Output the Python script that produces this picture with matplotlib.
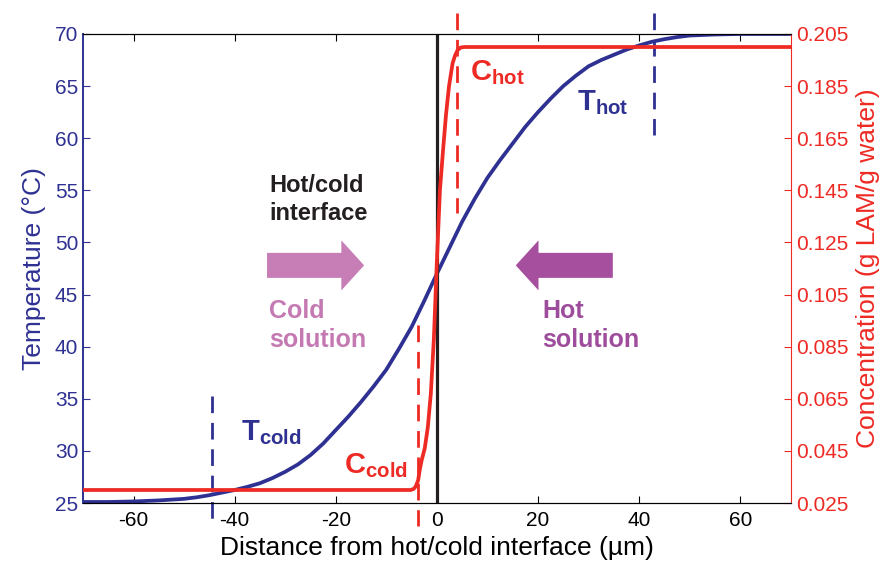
import matplotlib
matplotlib.use("Agg")
import matplotlib.pyplot as plt
from matplotlib.patches import FancyArrow

plt.rcParams["font.family"] = ["Liberation Sans", "DejaVu Sans"]
plt.rcParams["mathtext.fontset"] = "custom"
plt.rcParams["mathtext.bf"] = "Liberation Sans:bold"
plt.rcParams["mathtext.rm"] = "Liberation Sans"
plt.rcParams["axes.unicode_minus"] = False

# temperature profile
t_x = [-70, -65, -60, -55, -50, -47.5, -45, -42.5, -40, -37.5, -35, -32.5, -30, -27.5, -25,
       -22.5, -20, -17.5, -15, -12.5, -10, -7.5, -5, -2.5, 0, 2.5, 5, 7.5, 10, 12.5, 15,
       17.5, 20, 22.5, 25, 27.5, 30, 32.5, 35, 37.5, 40, 42.5, 45, 47.5, 50, 55, 60, 65, 70]
t_val = [25.1, 25.1, 25.15, 25.25, 25.4, 25.55, 25.75, 26.0, 26.25, 26.55, 26.9, 27.4, 28.0,
         28.7, 29.6, 30.7, 32.0, 33.3, 34.7, 36.2, 37.8, 39.8, 41.9, 44.4, 47.0, 49.5, 52.0,
         54.2, 56.2, 57.9, 59.5, 61.1, 62.5, 63.8, 65.0, 66.0, 66.9, 67.5, 68.0, 68.5, 68.9,
         69.25, 69.5, 69.7, 69.85, 69.95, 70.0, 70.0, 70.0]

# concentration profile
c_x = [-70, -5.2, -4.6, -4.2, -3.7, -3.4, -3.0, -2.4, -1.8, -1.2, -0.6, 0, 0.6, 1.2, 1.8,
       2.4, 3.1, 3.6, 4.1, 4.7, 5.4, 70]
c_val = [0.030, 0.030, 0.0304, 0.0313, 0.0338, 0.0377, 0.0415, 0.046, 0.054, 0.067, 0.088,
         0.118, 0.145, 0.160, 0.174, 0.185, 0.1937, 0.1968, 0.1988, 0.1998, 0.200, 0.200]

# boundary-layer markers
t_edges = [-44.5, 43]
c_edges = [-3.7, 3.9]

x_ticks = [-60, -40, -20, 0, 20, 40, 60]
t_ticks = [25, 30, 35, 40, 45, 50, 55, 60, 65, 70]
c_ticks = [0.025, 0.045, 0.065, 0.085, 0.105, 0.125, 0.145, 0.165, 0.185, 0.205]

blue = "#2E3192"
red = "#EE2A24"
pink = "#C77DB5"
purple = "#A64F9E"

fig = plt.figure(figsize=(8.88, 5.72), dpi=100)
ax = fig.add_axes([0.0935, 0.1206, 0.797, 0.82])
ax2 = ax.twinx()

ax.plot(t_x, t_val, color=blue, lw=2.7, solid_joinstyle="round")
ax.axvline(0, color="#231F20", lw=2.3)
ax2.plot(c_x, c_val, color=red, lw=2.7, solid_joinstyle="round")

# dashed markers, running past the frame
ax.plot([t_edges[0], t_edges[0]], [35.3, 23.3], color=blue, lw=2, dashes=(6, 3.5), clip_on=False)
ax.plot([t_edges[1], t_edges[1]], [72.0, 60.3], color=blue, lw=2, dashes=(6, 3.5), clip_on=False)
ax.plot([c_edges[0], c_edges[0]], [42.1, 22.8], color=red, lw=2, dashes=(6, 3.5), clip_on=False)
ax.plot([c_edges[1], c_edges[1]], [72.0, 52.8], color=red, lw=2, dashes=(6, 3.5), clip_on=False)

ax.set_xlim(-70, 70)
ax.set_ylim(25, 70)
ax2.set_ylim(0.025, 0.205)
ax.set_xticks(x_ticks)
ax.set_yticks(t_ticks)
ax2.set_yticks(c_ticks)
ax2.set_yticklabels(["%.3f" % v for v in c_ticks])

ax.tick_params(axis="x", direction="in", top=True, length=5, labelsize=15, pad=6)
ax.tick_params(axis="y", direction="in", colors=blue, length=5, labelsize=15)
ax2.tick_params(axis="y", direction="in", colors=red, length=5, labelsize=15)
ax.spines["left"].set_color(blue)
ax.spines["left"].set_linewidth(1.4)
ax2.spines["left"].set_visible(False)
ax2.spines["right"].set_color(red)
ax.spines["right"].set_visible(False)

ax.set_xlabel("Distance from hot/cold interface (µm)", fontsize=19, labelpad=4)
ax.set_ylabel("Temperature (°C)", fontsize=19, color=blue, labelpad=6)
ax2.set_ylabel("Concentration (g LAM/g water)", fontsize=19, color=red, labelpad=6)

# arrows
ax.add_patch(FancyArrow(-33.6, 47.8, 19.2, 0, width=2.4, head_width=4.8, head_length=4.5,
                        length_includes_head=True, color=pink, lw=0))
ax.add_patch(FancyArrow(34.8, 47.8, -19.2, 0, width=2.4, head_width=4.8, head_length=4.5,
                        length_includes_head=True, color=purple, lw=0))

ax.text(-33.2, 54.1, "Hot/cold\ninterface", fontsize=17, fontweight="bold", color="#231F20",
        ha="left", va="center", linespacing=1.25)
ax.text(-33.2, 42.0, "Cold\nsolution", fontsize=18, fontweight="bold", color="#C479B2",
        ha="left", va="center", linespacing=1.25)
ax.text(20.9, 42.0, "Hot\nsolution", fontsize=18, fontweight="bold", color="#9E4C9C",
        ha="left", va="center", linespacing=1.25)

ax.text(27.7, 62.7, r"$\mathbf{T}_{\mathbf{hot}}$", fontsize=21, color=blue, ha="left", va="baseline")
ax.text(-38.7, 31.0, r"$\mathbf{T}_{\mathbf{cold}}$", fontsize=21, color=blue, ha="left", va="baseline")
ax.text(6.5, 65.6, r"$\mathbf{C}_{\mathbf{hot}}$", fontsize=21, color=red, ha="left", va="baseline")
ax.text(-18.4, 27.9, r"$\mathbf{C}_{\mathbf{cold}}$", fontsize=21, color=red, ha="left", va="baseline")

fig.savefig("out.png", dpi=100)
